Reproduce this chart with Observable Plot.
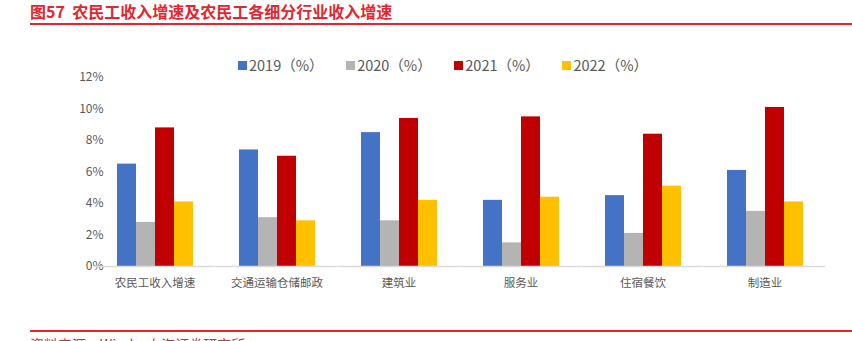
<!DOCTYPE html>
<html>
<head>
<meta charset="utf-8">
<script src="https://cdn.jsdelivr.net/npm/d3@7"></script>
<script src="https://cdn.jsdelivr.net/npm/@observablehq/plot@0.6"></script>
<style>
  html, body { margin: 0; padding: 0; background: #fff; }
  body { width: 852px; height: 341px; overflow: hidden; position: relative; font-family: "Noto Sans CJK SC", "Noto Sans", sans-serif; }
  #title { height: 55px; position: relative; }
  #title .t { position: absolute; left: 30px; top: 1px; font-size: 16px; font-weight: bold; color: #e4262e; white-space: pre; line-height: 20px; }
  #title .line { position: absolute; left: 30px; right: 0; top: 23px; height: 2px; background: #e4262e; }
  #legend { height: 20px; margin-bottom: -10px; position: relative; z-index: 2; display: flex; justify-content: center; padding-left: 34px; font-size: 14.5px; color: #595959; line-height: 20px; }
  #legend .item { display: flex; align-items: center; margin: 0 11.3px; }
  #legend .sw { width: 9px; height: 9px; margin-right: 2px; }
  #chart { position: relative; z-index: 1; height: 236px; }
  #chart svg { background: transparent !important; display: block; }
  #footer { position: absolute; left: 0; top: 330px; width: 852px; z-index: 3; }
  #footer .line { position: absolute; left: 30px; right: 0; top: 0; height: 2px; background: #e4262e; }
  #footer .t { position: absolute; left: 30px; top: 6px; font-size: 14px; color: #e4262e; line-height: 16px; white-space: pre; }
</style>
</head>
<body>
<div id="title"><div class="t">图57  农民工收入增速及农民工各细分行业收入增速</div><div class="line"></div></div>
<div id="legend"></div>
<div id="chart"></div>
<div id="footer"><div class="line"></div><div class="t">资料来源：Wind，上海证券研究所</div></div>
<script>
const categories = ["农民工收入增速", "交通运输仓储邮政", "建筑业", "服务业", "住宿餐饮", "制造业"];
const years = ["2019（%）", "2020（%）", "2021（%）", "2022（%）"];
const v2019 = [6.5, 7.4, 8.5, 4.2, 4.5, 6.1];
const v2020 = [2.8, 3.1, 2.9, 1.5, 2.1, 3.5];
const v2021 = [8.8, 7.0, 9.4, 9.5, 8.4, 10.1];
const v2022 = [4.1, 2.9, 4.2, 4.4, 5.1, 4.1];
const yTicks = [0, 2, 4, 6, 8, 10, 12];
const colors = ["#4472C4", "#B4B4B4", "#C00000", "#FFC000"];

const series = [v2019, v2020, v2021, v2022];
const data = categories.flatMap((c, i) => years.map((y, j) => ({category: c, year: y, value: series[j][i]})));

// legend
const legend = document.getElementById("legend");
years.forEach((y, j) => {
  const it = document.createElement("div");
  it.className = "item";
  const sw = document.createElement("span");
  sw.className = "sw";
  sw.style.background = colors[j];
  const tx = document.createElement("span");
  tx.textContent = y;
  it.appendChild(sw); it.appendChild(tx);
  legend.appendChild(it);
});

const W = 852, ML = 94, MR = 26;
const padInner = 0.35, padOuter = 0.175;
const step = (W - ML - MR) / (categories.length - padInner + 2 * padOuter);
const baseInset = -step * padInner / 2; // extend baseline across gaps between groups

const chart = Plot.plot({
  width: W,
  height: 236,
  marginLeft: ML,
  marginRight: MR,
  marginTop: 12,
  marginBottom: 35,
  style: {fontFamily: "'Noto Sans CJK SC', 'Noto Sans', sans-serif", color: "#595959", background: "transparent"},
  fx: {domain: categories, paddingInner: padInner, paddingOuter: padOuter, label: null, axis: "bottom", tickSize: 0, tickPadding: 12},
  x: {domain: years, axis: null, padding: 0},
  y: {domain: [0, 12], ticks: yTicks, tickFormat: d => d + "%", label: null, tickSize: 0, tickPadding: 12},
  color: {domain: years, range: colors},
  marks: [
    Plot.barY(data, {fx: "category", x: "year", y: "value", fill: "year"}),
    Plot.ruleY([0], {stroke: "#d9d9d9", strokeWidth: 1.5, insetLeft: baseInset, insetRight: baseInset})
  ]
});
document.getElementById("chart").appendChild(chart);
</script>
<style>
  #chart svg text { fill: #595959; }
  #chart svg g[aria-label^="fx-axis"] { font-size: 11.5px; }
  #chart svg g[aria-label^="y-axis"] { font-size: 12px; }
</style>
</body>
</html>
